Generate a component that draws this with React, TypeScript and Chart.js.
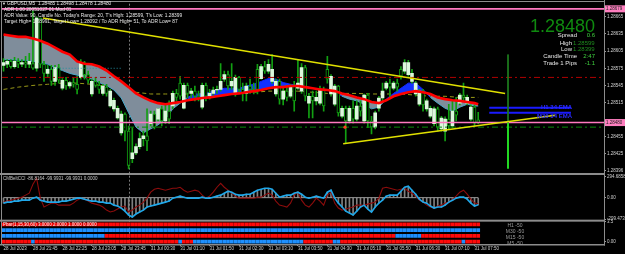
import React, { useEffect, useRef } from 'react';
import { Chart, registerables } from 'chart.js';

Chart.register(...registerables);

const FONT = '"Liberation Sans", Arial, sans-serif';

// ---------- price candles (GBPUSD M5, 130 bars: 28 Jul 21:05 .. 31 Jul 07:55) ----------
const opens = [
  1.28580, 1.28582, 1.28587, 1.28578, 1.28587, 1.28582, 1.28585, 1.28582, 1.28583, 1.28575,
  1.28663, 1.28582, 1.28566, 1.28573, 1.28552, 1.28576, 1.28540, 1.28554, 1.28544, 1.28550,
  1.28547, 1.28559, 1.28585, 1.28564, 1.28530, 1.28552, 1.28545, 1.28531, 1.28542, 1.28509,
  1.28504, 1.28488, 1.28462, 1.28495, 1.28465, 1.28417, 1.28427, 1.28438, 1.28452, 1.28457,
  1.28478, 1.28495, 1.28486, 1.28504, 1.28483, 1.28500, 1.28509, 1.28531, 1.28549, 1.28505,
  1.28545, 1.28531, 1.28535, 1.28526, 1.28507, 1.28545, 1.28526, 1.28531, 1.28537, 1.28538,
  1.28556, 1.28564, 1.28544, 1.28530, 1.28559, 1.28538, 1.28531, 1.28544, 1.28538, 1.28573,
  1.28557, 1.28578, 1.28570, 1.28552, 1.28530, 1.28552, 1.28521, 1.28535, 1.28526, 1.28544,
  1.28540, 1.28535, 1.28576, 1.28514, 1.28526, 1.28518, 1.28514, 1.28538, 1.28573, 1.28530,
  1.28512, 1.28544, 1.28491, 1.28505, 1.28483, 1.28505, 1.28486, 1.28509, 1.28483, 1.28528,
  1.28483, 1.28472, 1.28505, 1.28523, 1.28540, 1.28549, 1.28540, 1.28549, 1.28573, 1.28570,
  1.28564, 1.28552, 1.28530, 1.28512, 1.28535, 1.28504, 1.28491, 1.28478, 1.28504, 1.28469,
  1.28465, 1.28486, 1.28474, 1.28500, 1.28514, 1.28528, 1.28514, 1.28486, 1.28507, 1.28485,
];
const highs = [
  1.28592, 1.28590, 1.28590, 1.28594, 1.28592, 1.28590, 1.28596, 1.28601, 1.28675, 1.28665,
  1.28663, 1.28587, 1.28580, 1.28580, 1.28580, 1.28582, 1.28557, 1.28559, 1.28552, 1.28559,
  1.28561, 1.28590, 1.28587, 1.28570, 1.28556, 1.28559, 1.28552, 1.28547, 1.28547, 1.28538,
  1.28523, 1.28509, 1.28500, 1.28497, 1.28474, 1.28471, 1.28443, 1.28462, 1.28465, 1.28504,
  1.28500, 1.28500, 1.28505, 1.28509, 1.28511, 1.28518, 1.28535, 1.28538, 1.28561, 1.28549,
  1.28549, 1.28540, 1.28544, 1.28535, 1.28549, 1.28549, 1.28538, 1.28542, 1.28544, 1.28583,
  1.28570, 1.28570, 1.28583, 1.28563, 1.28561, 1.28549, 1.28549, 1.28556, 1.28549, 1.28582,
  1.28582, 1.28587, 1.28590, 1.28599, 1.28556, 1.28556, 1.28544, 1.28545, 1.28547, 1.28552,
  1.28590, 1.28583, 1.28580, 1.28531, 1.28535, 1.28535, 1.28544, 1.28542, 1.28596, 1.28564,
  1.28547, 1.28545, 1.28509, 1.28509, 1.28509, 1.28518, 1.28518, 1.28518, 1.28530, 1.28531,
  1.28491, 1.28500, 1.28526, 1.28549, 1.28552, 1.28556, 1.28552, 1.28556, 1.28578, 1.28590,
  1.28589, 1.28573, 1.28552, 1.28538, 1.28538, 1.28521, 1.28509, 1.28507, 1.28507, 1.28491,
  1.28490, 1.28512, 1.28518, 1.28524, 1.28531, 1.28549, 1.28528, 1.28511, 1.28511, 1.28498,
];
const lows = [
  1.28570, 1.28576, 1.28575, 1.28575, 1.28576, 1.28578, 1.28576, 1.28576, 1.28573, 1.28570,
  1.28576, 1.28552, 1.28559, 1.28545, 1.28545, 1.28549, 1.28537, 1.28538, 1.28540, 1.28542,
  1.28530, 1.28556, 1.28556, 1.28549, 1.28526, 1.28542, 1.28531, 1.28528, 1.28526, 1.28507,
  1.28500, 1.28486, 1.28458, 1.28448, 1.28399, 1.28410, 1.28424, 1.28434, 1.28439, 1.28431,
  1.28474, 1.28469, 1.28483, 1.28474, 1.28478, 1.28478, 1.28504, 1.28518, 1.28521, 1.28504,
  1.28523, 1.28524, 1.28518, 1.28518, 1.28504, 1.28518, 1.28521, 1.28528, 1.28531, 1.28535,
  1.28552, 1.28538, 1.28538, 1.28526, 1.28531, 1.28518, 1.28518, 1.28531, 1.28530, 1.28530,
  1.28556, 1.28566, 1.28566, 1.28549, 1.28526, 1.28512, 1.28511, 1.28518, 1.28523, 1.28500,
  1.28538, 1.28531, 1.28518, 1.28488, 1.28488, 1.28511, 1.28511, 1.28500, 1.28549, 1.28526,
  1.28509, 1.28491, 1.28488, 1.28443, 1.28479, 1.28479, 1.28483, 1.28491, 1.28479, 1.28471,
  1.28460, 1.28469, 1.28500, 1.28518, 1.28537, 1.28524, 1.28537, 1.28535, 1.28556, 1.28566,
  1.28561, 1.28549, 1.28526, 1.28509, 1.28500, 1.28500, 1.28488, 1.28474, 1.28465, 1.28465,
  1.28448, 1.28469, 1.28471, 1.28483, 1.28511, 1.28518, 1.28511, 1.28483, 1.28474, 1.28478,
];
const closes = [
  1.28585, 1.28587, 1.28578, 1.28587, 1.28582, 1.28585, 1.28582, 1.28587, 1.28575, 1.28663,
  1.28582, 1.28566, 1.28573, 1.28552, 1.28576, 1.28554, 1.28554, 1.28544, 1.28550, 1.28547,
  1.28538, 1.28585, 1.28564, 1.28554, 1.28552, 1.28545, 1.28538, 1.28544, 1.28531, 1.28535,
  1.28519, 1.28505, 1.28495, 1.28465, 1.28405, 1.28427, 1.28438, 1.28452, 1.28457, 1.28448,
  1.28495, 1.28472, 1.28504, 1.28483, 1.28500, 1.28486, 1.28531, 1.28524, 1.28526, 1.28545,
  1.28531, 1.28535, 1.28526, 1.28523, 1.28545, 1.28526, 1.28531, 1.28537, 1.28538, 1.28552,
  1.28564, 1.28544, 1.28552, 1.28559, 1.28538, 1.28531, 1.28544, 1.28538, 1.28535, 1.28538,
  1.28578, 1.28570, 1.28582, 1.28573, 1.28552, 1.28521, 1.28535, 1.28524, 1.28544, 1.28518,
  1.28549, 1.28576, 1.28526, 1.28526, 1.28518, 1.28524, 1.28538, 1.28509, 1.28556, 1.28561,
  1.28544, 1.28497, 1.28505, 1.28483, 1.28505, 1.28486, 1.28509, 1.28500, 1.28528, 1.28483,
  1.28472, 1.28497, 1.28523, 1.28535, 1.28549, 1.28542, 1.28549, 1.28542, 1.28561, 1.28585,
  1.28585, 1.28566, 1.28549, 1.28535, 1.28511, 1.28518, 1.28505, 1.28504, 1.28472, 1.28488,
  1.28486, 1.28474, 1.28500, 1.28493, 1.28528, 1.28524, 1.28524, 1.28507, 1.28479, 1.28480,
];

// ---------- moving-average cloud (sampled every 2 bars, plus last bar) ----------
const maIdx = [...Array.from({ length: 65 }, (_, k) => 2 * k), 129];
const redMA = [
  1.28634, 1.28632, 1.28630, 1.28630, 1.28627, 1.28623, 1.28618, 1.28611, 1.28604, 1.28599,
  1.28587, 1.28583, 1.28582, 1.28578, 1.28571, 1.28561, 1.28552, 1.28542, 1.28531, 1.28524,
  1.28518, 1.28514, 1.28512, 1.28514, 1.28516, 1.28519, 1.28521, 1.28523, 1.28524, 1.28526,
  1.28528, 1.28530, 1.28531, 1.28533, 1.28535, 1.28537, 1.28540, 1.28542, 1.28542, 1.28544,
  1.28544, 1.28542, 1.28540, 1.28538, 1.28537, 1.28535, 1.28531, 1.28528, 1.28524, 1.28521,
  1.28516, 1.28514, 1.28519, 1.28526, 1.28530, 1.28533, 1.28535, 1.28533, 1.28530, 1.28524,
  1.28521, 1.28519, 1.28518, 1.28516, 1.28514, 1.28512,
];
const cloudMA = [
  1.28590, 1.28590, 1.28589, 1.28589, 1.28587, 1.28585, 1.28582, 1.28576, 1.28571, 1.28566,
  1.28563, 1.28559, 1.28556, 1.28550, 1.28545, 1.28537, 1.28523, 1.28497, 1.28472, 1.28462,
  1.28469, 1.28476, 1.28486, 1.28504, 1.28514, 1.28524, 1.28530, 1.28530, 1.28533, 1.28537,
  1.28540, 1.28540, 1.28540, 1.28544, 1.28547, 1.28552, 1.28557, 1.28556, 1.28550, 1.28547,
  1.28545, 1.28544, 1.28540, 1.28538, 1.28537, 1.28535, 1.28526, 1.28521, 1.28518, 1.28512,
  1.28504, 1.28507, 1.28521, 1.28531, 1.28540, 1.28549, 1.28549, 1.28538, 1.28524, 1.28514,
  1.28505, 1.28500, 1.28507, 1.28512, 1.28509, 1.28509,
];
// dashed slow MA (every 4 bars, plus last bar)
const slowIdx = [...Array.from({ length: 33 }, (_, k) => 4 * k), 129];
const slowMA = [
  1.28538, 1.28542, 1.28545, 1.28547, 1.28549, 1.28549, 1.28547, 1.28544, 1.28538, 1.28533,
  1.28530, 1.28530, 1.28530, 1.28530, 1.28530, 1.28531, 1.28533, 1.28533, 1.28535, 1.28535,
  1.28535, 1.28533, 1.28531, 1.28531, 1.28531, 1.28530, 1.28530, 1.28530, 1.28528, 1.28526,
  1.28526, 1.28524, 1.28524, 1.28524,
];

// ---------- objects on the price chart ----------
const pinkLevels = [1.28679, 1.28480];
const redDashLevel = 1.28559;
const greenDashLevel = 1.28472;
const cyanDotLevel = 1.28575;
const cyanDotIdx = [12, 32];
const emaLevels = [1.28506, 1.28497];
const emaNames = ['H1 34 EMA', 'M30 34 EMA'];
const emaIdx = [132, 154.2];
const trendDownIdx = [10.7, 136.3];
const trendDownPrice = [1.28663, 1.28531];
const trendUpIdx = [92.3, 149.9];
const trendUpPrice = [1.28443, 1.28493];
const dayHigh = 1.28599;
const dayLow = 1.28399;
const bidPrice = 1.28480;
const rangeIdx = 137.1;
const markerIdx = 92.8;
const mondayIdx = 34;
const priceTicks = [1.28665, 1.28635, 1.28605, 1.28575, 1.28545, 1.28515, 1.28455, 1.28425, 1.28396];

// ---------- CCI sub-window ----------
const cciBlue = [
  -76, -62, -62, -48, -48, -35, -35, -35, -7, 7,
  -35, -48, -62, -62, -62, -62, -48, -48, -35, -21,
  -7, -7, -21, -35, -48, -48, -62, -62, -76, -76,
  -104, -117, -145, -187, -242, -270, -228, -200, -173, -131,
  -117, -104, -90, -76, -62, -48, -7, 7, 21, 7,
  -7, -7, -7, -7, 7, -7, -7, 7, 21, 35,
  62, 90, 76, 48, 35, 35, 48, 48, 76, 104,
  117, 131, 131, 117, 62, 7, 21, 35, 35, 62,
  76, 48, 7, -7, 7, 21, 7, -7, 76, 104,
  -7, -76, -131, -187, -214, -242, -187, -131, -104, -159,
  -200, -131, -76, -35, 21, 35, 35, 35, 90, 145,
  159, 104, 48, -21, -62, -76, -117, -145, -131, -131,
  -104, -62, -35, -7, 7, 7, -21, -76, -117, -99.99,
];
const cciRed = [
  -62, -48, -35, -21, -7, 7, 35, 62, 187, 269,
  -7, -131, -104, -76, -76, -104, -104, -104, -104, -76,
  -35, -7, -21, -48, -76, -90, -104, -131, -173, -200,
  -187, -159, -131, -117, -200, -173, -131, -104, -62, -7,
  76, 117, 131, 117, 104, 117, 131, 131, 145, 104,
  76, 90, 104, 90, 35, -7, 21, 76, 145, 200,
  145, 104, 62, 21, -7, -7, -7, -7, -7, 7,
  7, 35, 62, 35, -48, -104, -117, -131, -76, 35,
  76, -35, -104, -131, -76, -7, -48, -104, 35, 76,
  -76, -145, -173, -159, -145, -131, -104, -104, -104, -90,
  -76, -62, -7, 131, 145, 131, 117, 104, 117, 131,
  90, 62, 21, -35, -62, -104, -131, -145, -117, -104,
  -76, -62, -21, 21, 76, 104, 48, -21, -76, -86.82,
];
const cciTicks = [294.6858, 0, -299.4731];
const cciTickLabels = ['294.6858', '0.00', '-299.4731'];

// ---------- multi-timeframe dashboard (B = up / blue, R = down / red) ----------
const rowNames = ['H1 -50', 'M30 -50', 'M15 -50', 'M5 -50'];
const rowLevels = [3, 2, 1, 0];
const h1Row = 'RRRRRRRRRR RRRRRRRRRR RRRRRRRRRR RRRRRRRRRR RRRRRRRRRR RRRRRRRRRR RRRRRRRRRR RRRRRRRRRR RRRRRRRRRR RRRRRRRRRR RRRRRRRRRR RRRRRRRRRR RRRRRRRRRR';
const m30Row = 'BBBBBBBBBB BBBBBBBBBB BBBBBBBBBB BBBBBBBBBB BBBBBBBBBB BBBBBBBBBB BBBBBBBBBB BBBBBBBBBB BBBBBBBBBB BBBBBBBBBB BBBBBBBBBB BBBBBBBBBB BBBBBBBBBB';
const m15Row = 'BBBBBBBBBB BBBBBBBBBB BBBBBBBBRR RRRRRRRRRR RRRRRRRRRR RRRRRRRRRR RRRRRRRRRR RRRRRRRRRR RRRRRRRRRR RRRRRRRRRR RRRRRRRBBB BBBBRRRRRR RRRRRRRRRR';
const m5Row = 'RRRRRRRRBR RRRRRRRRRR RRRRRRRRRR RRRRRRRRRR RRRRRRRRBR RRBBBBBBBB BBBBBBBBBB BBBBBBBBBB BBRRRRRRRR BBRRRRRRRR RRRRRRRRRR RRRRRRRRRR RRRRRBRRRR';
const dashRows = [h1Row, m30Row, m15Row, m5Row];

// ---------- time axis ----------
const timeTickIdx = [0, 8, 16, 24, 32, 40, 48, 56, 64, 72, 80, 88, 96, 104, 112, 120, 128];
const timeLabels = [
  '28 Jul 2023', '28 Jul 21:45', '28 Jul 22:25', '28 Jul 23:05', '28 Jul 23:45',
  '31 Jul 00:30', '31 Jul 01:10', '31 Jul 01:50', '31 Jul 02:30', '31 Jul 03:10',
  '31 Jul 03:50', '31 Jul 04:30', '31 Jul 05:10', '31 Jul 05:50', '31 Jul 06:30',
  '31 Jul 07:10', '31 Jul 07:50',
];

// ---------- on-chart texts ----------
const headerLines = [
  'GBPUSD,M5  1.28485 1.28498 1.28478 1.28480',
  'ADR 1.00 20051027 01 Mod 01',
  "ADR Value: 90, Candle No. Today's Range: 20, T's High: 1.28599, T's Low: 1.28399",
  'Target High= 1.28991, Target Low= 1.28092 / To ADR High= 51, To ADR Low= 87',
];
const infoLabels = ['Spread', 'High', 'Low', 'Candle Time', 'Trade 1 Pips'];
const infoValues = ['0.6', '1.28599', '1.28399', '2:47', '-1.1'];
const cciTitle = 'CMBeltCCI -86.8164 -99.9931 -99.9931 0.0000';
const dashTitle = 'Pbar(1,15,30,60) 3.0000 2.0000 1.0000 0.0000';

const X_MIN = -0.41;
const X_MAX = 163.18;

function txt(ctx: CanvasRenderingContext2D, s: string, x: number, y: number, color: string, size: number, align: CanvasTextAlign = 'left', weight = '') {
  ctx.font = `${weight ? weight + ' ' : ''}${size}px ${FONT}`;
  ctx.fillStyle = color;
  ctx.textAlign = align;
  ctx.textBaseline = 'middle';
  ctx.fillText(s, x, y);
}

const overlay = {
  id: 'mtOverlay',
  beforeDraw(chart: any) {
    const ctx = chart.ctx;
    ctx.save();
    ctx.fillStyle = '#000';
    ctx.fillRect(0, 0, chart.width, chart.height);
    ctx.restore();
  },
  beforeDatasetsDraw(chart: any) {
    const ctx = chart.ctx;
    const x = Math.round(chart.scales.x.getPixelForValue(mondayIdx)) + 0.5;
    ctx.save();
    ctx.strokeStyle = '#7a7a7a';
    ctx.lineWidth = 1;
    ctx.setLineDash([2, 2]);
    ctx.beginPath();
    ctx.moveTo(x, chart.chartArea.top);
    ctx.lineTo(x, chart.chartArea.bottom);
    ctx.stroke();
    ctx.restore();
  },
  afterDraw(chart: any) {
    const ctx = chart.ctx;
    const yS = chart.scales.y;
    const yC = chart.scales.yCci;
    const area = chart.chartArea;
    ctx.save();
    // window frames
    ctx.fillStyle = '#8c8c8c';
    ctx.fillRect(0, 1, 605, 1);
    ctx.fillRect(1, 1, 1, area.bottom);
    ctx.fillRect(0, yS.bottom - 1, 605, 2);
    ctx.fillRect(0, yC.bottom - 1, 605, 2);
    ctx.fillRect(0, area.bottom, 605, 1.5);
    ctx.fillRect(604, 0, 1, area.bottom + 1.5);

    // pink price boxes on the price axis
    pinkLevels.forEach((p) => {
      const y = yS.getPixelForValue(p);
      ctx.fillStyle = '#ff7fc0';
      ctx.fillRect(605, y - 3.5, 20, 7);
      txt(ctx, p.toFixed(5), 606, y + 0.3, '#202020', 4.5);
    });

    // header texts
    txt(ctx, '\u25BC', 2, 4, '#e8e8e8', 4);
    txt(ctx, headerLines[0], 7, 4, '#e8e8e8', 4.8);
    txt(ctx, headerLines[1], 4, 10, '#e8e8e8', 4.8);
    txt(ctx, headerLines[2], 4, 16, '#e8e8e8', 4.8);
    txt(ctx, headerLines[3], 4, 22, '#e8e8e8', 4.8);

    // price info block
    ctx.font = `18px ${FONT}`;
    ctx.fillStyle = '#0f8a0f';
    ctx.textAlign = 'right';
    ctx.textBaseline = 'alphabetic';
    ctx.fillText(bidPrice.toFixed(5), 595, 32);
    const rowsY = [35.5, 43, 49.5, 56.5, 63.5];
    const labelRight = [577, 572, 572, 577, 577];
    infoLabels.forEach((l, i) => txt(ctx, l, labelRight[i], rowsY[i], '#e6e6e6', 6, 'right'));
    infoValues.forEach((v, i) => {
      if (i === 1 || i === 2) txt(ctx, v, 573, rowsY[i], '#1e8c1e', 6, 'left');
      else txt(ctx, v, 595, rowsY[i], '#3fd03f', 6, 'right');
    });

    // EMA labels
    txt(ctx, emaNames[0], 572, yS.getPixelForValue(emaLevels[0]) - 0.5, '#2a2aff', 6, 'right', 'bold');
    txt(ctx, emaNames[1], 572, yS.getPixelForValue(emaLevels[1]) + 3.5, '#2a2aff', 6, 'right', 'bold');

    // sub-window titles
    txt(ctx, cciTitle, 3, yS.bottom + 5, '#c8c8c8', 4.5);
    txt(ctx, dashTitle, 3, yC.bottom + 4, '#f0f0f0', 4.5);
    const yD = chart.scales.yDash;
    rowNames.forEach((n, i) => {
      txt(ctx, n, 515, yD.getPixelForValue(rowLevels[i]) + 1.5, '#9a9a9a', 5, 'center');
    });
    ctx.restore();
  },
};

export default function App() {
  const ref = useRef<HTMLCanvasElement>(null);

  useEffect(() => {
    document.body.style.margin = '0';
    document.body.style.background = '#000';
    const canvas = ref.current;
    if (!canvas) return;
    Chart.defaults.font.family = FONT;

    const bars = opens.map((_, i) => i);
    const isBull = bars.map((i) => closes[i] >= opens[i]);
    const hline = (p: number) => [{ x: X_MIN, y: p }, { x: X_MAX, y: p }];
    const line = (extra: any) => ({
      type: 'line',
      yAxisID: 'y',
      pointRadius: 0,
      borderWidth: 1,
      tension: 0,
      fill: false,
      ...extra,
    });

    const datasets: any[] = [
      // 0: slow MA of cloud (red)
      line({
        data: maIdx.map((x, k) => ({ x, y: redMA[k] })),
        borderColor: '#ff0000',
        borderWidth: 2.6,
        order: 4,
      }),
      // 1: fast MA with fill to the red MA
      line({
        data: maIdx.map((x, k) => ({ x, y: cloudMA[k] })),
        borderColor: '#4aa8c8',
        segment: {
          borderColor: (c: any) => (cloudMA[c.p0DataIndex] >= redMA[c.p0DataIndex] ? '#1428ff' : '#4aa8c8'),
        },
        fill: { target: 0, above: '#1230ff', below: '#7f8d9b' },
        order: 30,
      }),
      // 2: dashed MA
      line({
        data: slowIdx.map((x, k) => ({ x, y: slowMA[k] })),
        borderColor: '#9a9a18',
        borderDash: [4, 3],
        order: 35,
      }),
      // 3: wicks
      {
        type: 'bar',
        yAxisID: 'y',
        grouped: false,
        barThickness: 1,
        data: bars.map((i) => ({ x: i, y: [lows[i], highs[i]] })),
        backgroundColor: '#12a012',
        borderWidth: 0,
        order: 20,
      },
      // 4: bodies
      {
        type: 'bar',
        yAxisID: 'y',
        grouped: false,
        barThickness: 3,
        data: bars.map((i) => ({ x: i, y: [opens[i], closes[i]] })),
        backgroundColor: isBull.map((b) => (b ? '#dcf8dc' : '#000000')),
        borderColor: '#12a012',
        borderWidth: isBull.map((b) => (b ? 0 : 1)),
        borderSkipped: false,
        order: 19,
      },
      // horizontal levels
      line({ data: hline(redDashLevel), borderColor: '#b00000', borderDash: [6, 3, 2, 3], order: 6 }),
      line({ data: hline(greenDashLevel), borderColor: '#0a8a0a', borderDash: [6, 3, 2, 3], order: 6 }),
      line({ data: [{ x: cyanDotIdx[0], y: cyanDotLevel }, { x: cyanDotIdx[1], y: cyanDotLevel }], borderColor: '#23909f', borderDash: [1, 2], order: 6 }),
      ...pinkLevels.map((p) => line({ data: hline(p), borderColor: '#ff78c0', borderWidth: 1.6, order: 3 })),
      ...emaLevels.map((p) => line({ data: [{ x: emaIdx[0], y: p }, { x: emaIdx[1], y: p }], borderColor: '#1a1aff', borderWidth: 2, order: 3 })),
      // trend lines
      line({ data: trendDownIdx.map((x, k) => ({ x, y: trendDownPrice[k] })), borderColor: '#e0e000', borderWidth: 1.5, order: 2 }),
      line({ data: trendUpIdx.map((x, k) => ({ x, y: trendUpPrice[k] })), borderColor: '#e0e000', borderWidth: 1.5, order: 2 }),
      // daily range bar
      line({ data: [{ x: rangeIdx, y: dayHigh }, { x: rangeIdx, y: bidPrice }], borderColor: '#1e7a1e', borderWidth: 1, order: 2 }),
      line({ data: [{ x: rangeIdx, y: bidPrice }, { x: rangeIdx, y: dayLow }], borderColor: '#22d822', borderWidth: 2, order: 2 }),
      line({ data: [{ x: markerIdx, y: greenDashLevel }], showLine: false, pointRadius: 1.6, pointBackgroundColor: '#ff4020', pointBorderWidth: 0, order: 2 }),

      // CCI window
      {
        type: 'bar',
        yAxisID: 'yCci',
        grouped: false,
        barThickness: 1,
        data: bars.map((i) => ({ x: i, y: [0, cciBlue[i]] })),
        backgroundColor: '#808080',
        borderWidth: 0,
        order: 12,
      },
      line({ yAxisID: 'yCci', data: [{ x: 0, y: 0 }, { x: 129, y: 0 }], borderColor: '#9a9a9a', order: 11 }),
      line({ yAxisID: 'yCci', data: bars.map((i) => ({ x: i, y: cciRed[i] })), borderColor: '#8c0c0c', borderWidth: 1.1, order: 10 }),
      line({ yAxisID: 'yCci', data: bars.map((i) => ({ x: i, y: cciBlue[i] })), borderColor: '#1fa8ea', borderWidth: 1.6, order: 9 }),

      // dashboard window
      ...dashRows.map((row, r) => {
        const cells = row.replace(/ /g, '').split('');
        return {
          type: 'bar',
          yAxisID: 'yDash',
          grouped: false,
          barThickness: 3,
          data: cells.map((_, i) => ({ x: i, y: [rowLevels[r] - 0.27, rowLevels[r] + 0.27] })),
          backgroundColor: cells.map((c) => (c === 'B' ? '#1e90ff' : '#ff0a0a')),
          borderWidth: 0,
          order: 8,
        };
      }),
    ];

    const rightAxis = (extra: any) => ({
      type: 'linear',
      position: 'right',
      stack: 'panes',
      offset: false,
      border: { display: false },
      grid: { drawOnChartArea: false, drawTicks: true, tickLength: 2, color: '#9a9a9a' },
      ticks: { font: { size: 4.5, family: FONT }, color: '#d0d0d0', padding: 1, autoSkip: false },
      afterFit: (s: any) => { s.width = 21; },
      ...extra,
    });

    const chart = new Chart(canvas, {
      type: 'bar',
      data: { datasets },
      plugins: [overlay],
      options: {
        animation: false,
        responsive: false,
        maintainAspectRatio: false,
        devicePixelRatio: 1,
        events: [],
        layout: { padding: { top: 2, left: 2, right: 0, bottom: 0 }, autoPadding: false },
        plugins: { legend: { display: false }, tooltip: { enabled: false } },
        elements: { point: { radius: 0 }, line: { tension: 0 } },
        scales: {
          x: {
            type: 'linear',
            min: X_MIN,
            max: X_MAX,
            offset: false,
            border: { display: false },
            grid: { drawOnChartArea: false, drawTicks: true, tickLength: 2, color: '#9a9a9a', offset: false },
            ticks: {
              autoSkip: false,
              maxRotation: 0,
              minRotation: 0,
              align: 'start',
              padding: 0,
              font: { size: 4.5, family: FONT },
              color: '#d0d0d0',
              callback: (v: any) => timeLabels[timeTickIdx.indexOf(v)] ?? '',
            },
            afterBuildTicks: (s: any) => { s.ticks = timeTickIdx.map((v) => ({ value: v })); },
            afterFit: (s: any) => { s.height = 10; },
          },
          y: rightAxis({
            min: 1.28390,
            max: 1.28688,
            stackWeight: 171.5,
            weight: 1,
            ticks: { font: { size: 4.5, family: FONT }, color: '#d0d0d0', padding: 1, autoSkip: false, callback: (v: any) => Number(v).toFixed(5) },
            afterBuildTicks: (s: any) => { s.ticks = priceTicks.map((v) => ({ value: v })); },
          }),
          yCci: rightAxis({
            min: -320.2,
            max: 329.2,
            stackWeight: 47,
            weight: 2,
            ticks: { font: { size: 4.5, family: FONT }, color: '#d0d0d0', padding: 1, autoSkip: false, callback: (v: any) => cciTickLabels[cciTicks.indexOf(v)] ?? '' },
            afterBuildTicks: (s: any) => { s.ticks = cciTicks.map((v) => ({ value: v })); },
          }),
          yDash: rightAxis({
            min: -0.397,
            max: 3.655,
            stackWeight: 23.5,
            weight: 3,
            ticks: { font: { size: 4.5, family: FONT }, color: '#d0d0d0', padding: 1, autoSkip: false, callback: (v: any) => (v === 0 ? '0.00' : String(v)) },
            afterBuildTicks: (s: any) => { s.ticks = [3.5, 0].map((v) => ({ value: v })); },
          }),
        },
      } as any,
    } as any);

    return () => chart.destroy();
  }, []);

  return (
    <div style={{ position: 'fixed', left: 0, top: 0, width: 625, height: 254, background: '#000' }}>
      <canvas ref={ref} width={625} height={254} style={{ display: 'block', width: 625, height: 254 }} />
    </div>
  );
}
